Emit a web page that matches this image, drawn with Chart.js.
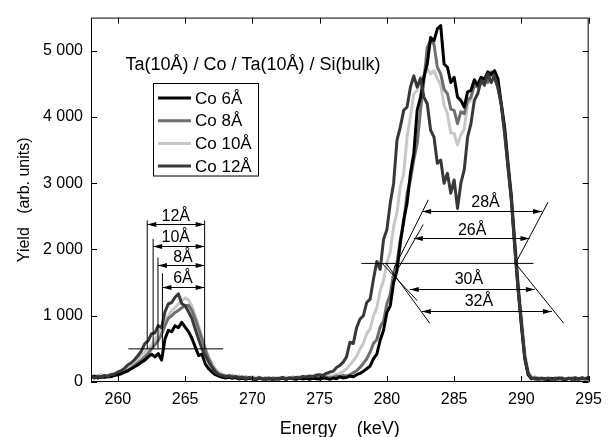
<!DOCTYPE html>
<html>
<head>
<meta charset="utf-8">
<script src="https://cdn.jsdelivr.net/npm/chart.js@4.4.1/dist/chart.umd.min.js"></script>
<style>
  body { margin: 0; background: #fff; }
</style>
</head>
<body>
<canvas id="chart" width="610" height="437"></canvas>
<script>
// energy grid (keV), one row per keV
const energy = [
  258, 258.25, 258.5, 258.75, 259, 259.25, 259.5, 259.75,
  260, 260.25, 260.5, 260.75, 261, 261.25, 261.5, 261.75,
  262, 262.25, 262.5, 262.75, 263, 263.25, 263.5, 263.75,
  264, 264.25, 264.5, 264.75, 265, 265.25, 265.5, 265.75,
  266, 266.25, 266.5, 266.75, 267, 267.25, 267.5, 267.75,
  268, 268.25, 268.5, 268.75, 269, 269.25, 269.5, 269.75,
  270, 270.25, 270.5, 270.75, 271, 271.25, 271.5, 271.75,
  272, 272.25, 272.5, 272.75, 273, 273.25, 273.5, 273.75,
  274, 274.25, 274.5, 274.75, 275, 275.25, 275.5, 275.75,
  276, 276.25, 276.5, 276.75, 277, 277.25, 277.5, 277.75,
  278, 278.25, 278.5, 278.75, 279, 279.25, 279.5, 279.75,
  280, 280.25, 280.5, 280.75, 281, 281.25, 281.5, 281.75,
  282, 282.25, 282.5, 282.75, 283, 283.25, 283.5, 283.75,
  284, 284.25, 284.5, 284.75, 285, 285.25, 285.5, 285.75,
  286, 286.25, 286.5, 286.75, 287, 287.25, 287.5, 287.75,
  288, 288.25, 288.5, 288.75, 289, 289.25, 289.5, 289.75,
  290, 290.25, 290.5, 290.75, 291, 291.25, 291.5, 291.75,
  292, 292.25, 292.5, 292.75, 293, 293.25, 293.5, 293.75,
  294, 294.25, 294.5, 294.75, 295
];

const co6 = [
  70, 90, 60, 80, 70, 90, 80, 100,
  110, 130, 150, 170, 200, 230, 260, 300,
  330, 380, 420, 380, 430, 330, 650, 780,
  760, 850, 820, 900, 830, 760, 660, 530,
  400, 420, 270, 200, 150, 110, 90, 70,
  60, 75, 55, 70, 45, 60, 40, 55,
  50, 35, 55, 45, 40, 55, 35, 50,
  45, 60, 40, 55, 50, 40, 60, 45,
  55, 40, 60, 50, 45, 60, 55, 40,
  60, 50, 80, 60, 70, 90, 80, 110,
  130, 160, 200, 240, 350, 420, 630, 780,
  1050, 1150, 1500, 1680, 2100, 2450, 2700, 3150,
  3450, 4100, 4300, 4600, 4800, 5200, 5150, 5330,
  5380, 4800, 4750, 4520, 4600, 4300, 4250, 4150,
  4380, 4400, 4560, 4480, 4600, 4570, 4680, 4640,
  4700, 4580, 4200, 3850, 3300, 2800, 2100, 1450,
  850, 350, 110, 50, 60, 40, 55, 45,
  35, 55, 40, 60, 45, 35, 55, 40,
  50, 40, 60, 45, 55
];

const co8 = [
  80, 60, 90, 70, 80, 70, 90, 100,
  110, 120, 150, 180, 210, 250, 290, 330,
  380, 430, 500, 560, 630, 720, 850, 960,
  1000, 1050, 1080, 1120, 1150, 1160, 1080, 950,
  800, 650, 480, 350, 240, 170, 120, 100,
  90, 70, 85, 60, 75, 55, 70, 50,
  65, 45, 60, 50, 55, 40, 60, 45,
  50, 65, 45, 60, 55, 70, 50, 65,
  60, 75, 55, 70, 65, 80, 70, 60,
  70, 90, 80, 100, 90, 110, 140, 170,
  220, 280, 350, 450, 580, 640, 830, 920,
  1180, 1320, 1650, 1800, 2150, 2400, 2850, 3050,
  3350, 3600, 4100, 4550, 5050, 5150, 5100, 4750,
  4650, 4420, 4350, 4120, 4100, 3900, 4080, 4050,
  4250, 4300, 4480, 4450, 4580, 4550, 4520, 4680,
  4580, 4450, 4180, 3780, 3250, 2750, 2050, 1400,
  880, 370, 120, 55, 45, 60, 40, 55,
  50, 35, 60, 45, 55, 40, 50, 60,
  40, 55, 45, 50, 60
];

const co10 = [
  100, 80, 90, 110, 90, 100, 120, 130,
  150, 170, 200, 230, 260, 300, 350, 400,
  450, 500, 560, 640, 720, 820, 920, 1000,
  1080, 1120, 1180, 1230, 1270, 1240, 1150, 1000,
  850, 680, 520, 380, 280, 200, 150, 120,
  100, 85, 110, 80, 95, 70, 85, 65,
  80, 60, 75, 55, 70, 50, 65, 55,
  70, 55, 75, 60, 80, 65, 85, 70,
  90, 75, 95, 85, 100, 90, 110, 95,
  100, 110, 130, 160, 200, 260, 320, 390,
  500, 580, 730, 800, 1000, 1120, 1380, 1530,
  1800, 1960, 2350, 2560, 2950, 3150, 3700, 4000,
  4350, 4400, 4600, 4620, 4730, 4650, 4700, 4580,
  4480, 4180, 4050, 3760, 3750, 3580, 3730, 3820,
  4200, 4260, 4530, 4520, 4580, 4540, 4600, 4560,
  4600, 4450, 4220, 3830, 3350, 2850, 2200, 1550,
  1000, 450, 160, 70, 80, 55, 70, 50,
  65, 45, 60, 55, 70, 50, 60, 45,
  65, 50, 70, 55, 60
];

const co12 = [
  90, 60, 80, 70, 100, 85, 110, 120,
  150, 170, 210, 260, 290, 340, 400, 470,
  580, 620, 730, 740, 850, 820, 1060, 1180,
  1200, 1280, 1330, 1180, 1150, 1060, 960, 800,
  650, 500, 400, 300, 220, 150, 110, 100,
  80, 95, 70, 85, 60, 75, 50, 70,
  55, 40, 65, 50, 45, 60, 40, 55,
  50, 70, 45, 60, 55, 70, 60, 85,
  75, 90, 80, 105, 110, 100, 130, 150,
  160, 220, 250, 300, 380, 600, 580, 820,
  950, 1000, 1200, 1250, 1550, 1820, 1700, 2150,
  2300, 2700, 3000, 3650, 3850, 4100, 4150, 4450,
  4620, 4450, 4580, 4300, 4200, 3800, 3700, 3300,
  3350, 3000, 3150, 2850, 3050, 2620, 3000, 3200,
  3700, 3900, 4250, 4350, 4550, 4480, 4650, 4520,
  4620, 4450, 4200, 3750, 3250, 2750, 2050, 1400,
  900, 380, 130, 60, 50, 40, 55, 35,
  60, 40, 50, 45, 60, 40, 55, 50,
  65, 45, 60, 50, 70
];

const seriesNames = ['Co 6Å', 'Co 8Å', 'Co 10Å', 'Co 12Å'];
const xTicks = [260, 265, 270, 275, 280, 285, 290, 295];
const yTicks = [0, 1000, 2000, 3000, 4000, 5000];

// thickness construction lines, in keV / yield units: [x1, y1, x2, y2]
const guideLines = [
  [260.78, 500, 267.83, 500],
  [262.18, 500, 262.18, 2440],
  [262.62, 500, 262.62, 2160],
  [262.98, 500, 262.98, 1880],
  [263.31, 500, 263.31, 1640],
  [266.45, 500, 266.45, 2440],
  [278.1, 1790, 290.9, 1790],
  [280.54, 1717, 283.08, 2750],
  [280.85, 1717, 282.7, 2376],
  [279.62, 1796, 282.26, 1228],
  [279.92, 1796, 283.18, 888],
  [289.56, 1790, 291.98, 2714],
  [289.56, 1790, 293.14, 888]
];
// double arrows: [xFrom, xTo, y]
const arrows = [
  [262.18, 266.45, 2390],
  [262.62, 266.45, 2060],
  [262.98, 266.45, 1760],
  [263.31, 266.45, 1440],
  [282.62, 291.53, 2578],
  [282.0, 290.6, 2166],
  [281.7, 291.0, 1403],
  [282.6, 292.27, 1078]
];
// thickness labels: [text, x, y of baseline]
const arrowLabels = [
  ['12Å', 264.3, 2436],
  ['10Å', 264.3, 2111],
  ['8Å', 264.84, 1811],
  ['6Å', 264.84, 1487],
  ['28Å', 287.33, 2640],
  ['26Å', 286.34, 2216],
  ['30Å', 286.1, 1477],
  ['32Å', 286.84, 1142]
];
const stackLabel = ['Ta(10Å) / Co / Ta(10Å) / Si(bulk)', 260.56, 4709];

const FONT = "'Liberation Sans', Arial, sans-serif";
Chart.defaults.font.family = FONT;
Chart.defaults.color = '#000';

function points(values) {
  return energy.map((e, i) => ({ x: e, y: values[i] }));
}

function arrowHead(ctx, x, y, dir) {
  ctx.beginPath();
  ctx.moveTo(x, y);
  ctx.lineTo(x - dir * 9, y - 2.5);
  ctx.lineTo(x - dir * 9, y + 2.5);
  ctx.closePath();
  ctx.fill();
}

const markers = {
  id: 'markers',
  afterDatasetsDraw(chart) {
    const { ctx, scales: { x, y } } = chart;
    ctx.save();
    ctx.strokeStyle = '#000';
    ctx.fillStyle = '#000';
    ctx.lineWidth = 1;
    ctx.beginPath();
    guideLines.forEach(([x1, y1, x2, y2]) => {
      ctx.moveTo(x.getPixelForValue(x1), y.getPixelForValue(y1));
      ctx.lineTo(x.getPixelForValue(x2), y.getPixelForValue(y2));
    });
    ctx.stroke();

    arrows.forEach(([x1, x2, yv]) => {
      const p1 = x.getPixelForValue(x1);
      const p2 = x.getPixelForValue(x2);
      const py = Math.round(y.getPixelForValue(yv)) + 0.5;
      ctx.beginPath();
      ctx.moveTo(p1, py);
      ctx.lineTo(p2, py);
      ctx.stroke();
      arrowHead(ctx, p1, py, -1);
      arrowHead(ctx, p2, py, 1);
    });

    ctx.font = '16px ' + FONT;
    ctx.textAlign = 'center';
    ctx.textBaseline = 'alphabetic';
    arrowLabels.forEach(([t, xv, yv]) => {
      ctx.fillText(t, x.getPixelForValue(xv), y.getPixelForValue(yv));
    });

    ctx.font = '18px ' + FONT;
    ctx.textAlign = 'left';
    ctx.fillText(stackLabel[0], x.getPixelForValue(stackLabel[1]), y.getPixelForValue(stackLabel[2]));
    ctx.restore();
  }
};

const frame = {
  id: 'frame',
  afterDraw(chart) {
    const { ctx, chartArea: a, scales: { x, y } } = chart;
    ctx.save();
    ctx.strokeStyle = '#000';
    ctx.lineWidth = 1;
    ctx.strokeRect(a.left + 0.5, a.top + 0.5, a.right - a.left - 1, a.bottom - a.top - 1);
    ctx.beginPath();
    xTicks.forEach(v => {
      const px = Math.round(x.getPixelForValue(v)) + 0.5;
      ctx.moveTo(px, a.bottom); ctx.lineTo(px, a.bottom - 6);
      ctx.moveTo(px, a.top); ctx.lineTo(px, a.top + 6);
    });
    yTicks.forEach(v => {
      const py = Math.round(y.getPixelForValue(v)) + 0.5;
      ctx.moveTo(a.left, py); ctx.lineTo(a.left + 6, py);
      ctx.moveTo(a.right, py); ctx.lineTo(a.right - 6, py);
    });
    ctx.stroke();

    // legend box
    ctx.fillStyle = '#fff';
    ctx.fillRect(153.5, 83.5, 105, 92.5);
    ctx.strokeRect(153.5, 83.5, 105, 92.5);
    ctx.font = '17px ' + FONT;
    ctx.textBaseline = 'middle';
    ctx.textAlign = 'left';
    chart.data.datasets.forEach((ds, i) => {
      const rowY = 98 + i * 22.7;
      ctx.strokeStyle = ds.borderColor;
      ctx.lineWidth = 3;
      ctx.beginPath();
      ctx.moveTo(158, rowY);
      ctx.lineTo(191, rowY);
      ctx.stroke();
      ctx.fillStyle = '#000';
      ctx.fillText(ds.label, 195, rowY + 1);
    });
    ctx.restore();
  }
};

new Chart(document.getElementById('chart'), {
  type: 'line',
  data: {
    datasets: [
      { label: seriesNames[0], data: points(co6), borderColor: '#000000', order: 1 },
      { label: seriesNames[1], data: points(co8), borderColor: '#6e6e6e', order: 2 },
      { label: seriesNames[2], data: points(co10), borderColor: '#c8c8c8', order: 3 },
      { label: seriesNames[3], data: points(co12), borderColor: '#383838', order: 0 }
    ]
  },
  options: {
    responsive: false,
    animation: false,
    layout: { padding: { top: 14, right: 20, left: 0, bottom: 0 } },
    elements: {
      point: { radius: 0 },
      line: { borderWidth: 3, tension: 0, borderJoinStyle: 'round' }
    },
    plugins: { legend: { display: false }, tooltip: { enabled: false } },
    scales: {
      x: {
        type: 'linear',
        min: 258,
        max: 295,
        afterBuildTicks: s => { s.ticks = xTicks.map(v => ({ value: v })); },
        afterFit: s => { s.height = 55; },
        grid: { display: false, drawTicks: false },
        border: { display: false },
        ticks: { font: { size: 16 }, padding: 8, maxRotation: 0 },
        title: { display: true, text: 'Energy    (keV)', font: { size: 18 }, padding: { top: 0, bottom: -3 } }
      },
      y: {
        type: 'linear',
        min: 0,
        max: 5500,
        afterBuildTicks: s => { s.ticks = yTicks.map(v => ({ value: v })); },
        afterFit: s => { s.width = 91; },
        grid: { display: false, drawTicks: false },
        border: { display: false },
        ticks: {
          font: { size: 16 },
          padding: 8,
          callback: v => v >= 1000 ? (v / 1000) + ' 000' : String(v)
        },
        title: { display: true, text: 'Yield   (arb. units)', font: { size: 16 }, padding: { top: 15, bottom: 0 } }
      }
    }
  },
  plugins: [markers, frame]
});
</script>
</body>
</html>
